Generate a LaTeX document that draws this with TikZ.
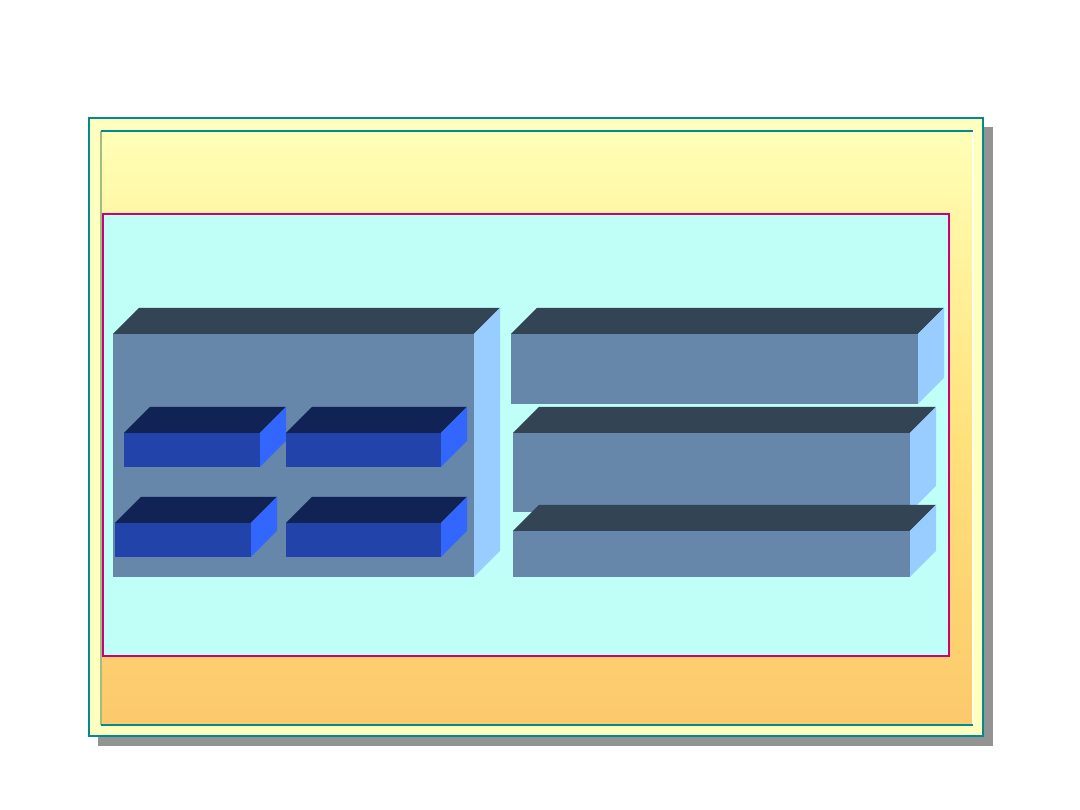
\documentclass[tikz,border=0pt]{standalone}
\usepackage{tikz}
\definecolor{framegreen}{RGB}{0,140,140}
\definecolor{frameolive}{RGB}{160,190,130}
\definecolor{paleyellow}{RGB}{255,255,192}
\definecolor{sunorange}{RGB}{252,201,107}
\definecolor{panelcyan}{RGB}{192,255,248}
\definecolor{panelrim}{RGB}{204,0,119}
\definecolor{slatefront}{RGB}{102,134,170}
\definecolor{slatetop}{RGB}{51,68,85}
\definecolor{slateside}{RGB}{153,204,255}
\definecolor{inkfront}{RGB}{34,68,170}
\definecolor{inktop}{RGB}{17,34,85}
\definecolor{inkside}{RGB}{51,102,255}

\begin{document}
\begin{tikzpicture}[x=0.02cm, y=-0.02cm,
		slate/.style={fill=slatefront},
		blueblock/.style={fill=inkfront}]
	\useasboundingbox (0,0) rectangle (1080,810);
	% Schatten und Rahmen
	\fill[gray!85] (98,127) rectangle (993,746);
	\draw[framegreen, line width=0.8pt, fill=paleyellow] (89,118) rectangle (983,736);
	\shade[top color=paleyellow!95!yellow, bottom color=sunorange, middle color=yellow!35!orange!35!paleyellow]
		(101,131) rectangle (973,725);
	% Innenrahmen
	\draw[frameolive, line width=0.6pt] (101,131) -- (101,725);
	\draw[white!70!paleyellow, line width=0.6pt] (973,131) -- (973,725);
	\draw[framegreen, line width=0.6pt] (101,131) -- (973,131) (101,725) -- (973,725);
	% Feld
	\draw[panelrim, line width=0.9pt, fill=panelcyan] (103,214) rectangle (949,656);
	% graue Quader
	\foreach \xa/\ya/\xb/\yb in {113/334/474/577, 511/334/918/404, 513/433/910/512, 513/531/910/577}
	{
		\fill[slatetop] (\xa,\ya) -- ({\xa+26},{\ya-26}) -- ({\xb+26},{\ya-26}) -- (\xb,\ya) -- cycle;
		\fill[slateside] (\xb,\ya) -- ({\xb+26},{\ya-26}) -- ({\xb+26},{\yb-26}) -- (\xb,\yb) -- cycle;
		\fill[slate] (\xa,\ya) rectangle (\xb,\yb);
	}
	% blaue Quader
	\foreach \xa/\ya/\xb/\yb in {124/433/260/467, 286/433/441/467, 115/523/251/557, 286/523/441/557}
	{
		\fill[inktop] (\xa,\ya) -- ({\xa+26},{\ya-26}) -- ({\xb+26},{\ya-26}) -- (\xb,\ya) -- cycle;
		\fill[inkside] (\xb,\ya) -- ({\xb+26},{\ya-26}) -- ({\xb+26},{\yb-26}) -- (\xb,\yb) -- cycle;
		\fill[blueblock] (\xa,\ya) rectangle (\xb,\yb);
	}
\end{tikzpicture}
\end{document}
